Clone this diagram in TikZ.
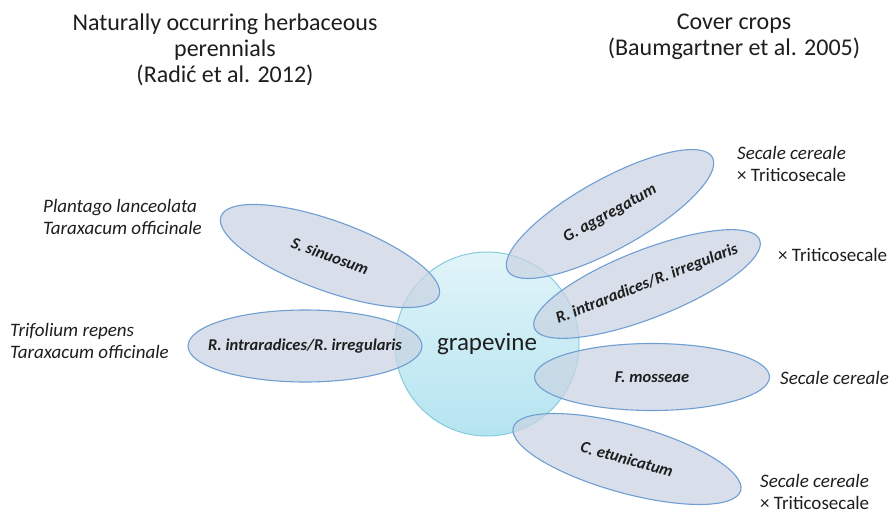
\documentclass[tikz,border=0pt]{standalone}
\usepackage{fontspec}
\setmainfont{Carlito}
\usetikzlibrary{shapes.geometric}
\definecolor{blobfill}{HTML}{C9D4E2}
\definecolor{blobline}{HTML}{6F9ED3}
\definecolor{circline}{HTML}{86CBDD}
\definecolor{circtop}{HTML}{E2F4F9}
\definecolor{circbot}{HTML}{B4E4F0}
\definecolor{txt}{HTML}{1E1E1E}
\tikzset{
  blob/.style={ellipse, draw=blobline, line width=1.1pt, fill=blobfill, fill opacity=0.72, inner sep=0pt},
  blobtext/.style={font=\fontsize{16.5}{18}\selectfont\bfseries\itshape, text=txt, inner sep=0pt},
  side/.style={font=\fontsize{19}{21.5}\selectfont, text=txt, align=left, anchor=west, inner sep=0pt},
  title/.style={font=\fontsize{24}{26}\selectfont, text=txt, align=center, inner sep=0pt},
}
\begin{document}
\begin{tikzpicture}[x=1pt,y=-1pt]
\useasboundingbox[fill=white] (0,0) rectangle (894,514);
% titles
\node[title] (t1) at (225,50) {Naturally occurring herbaceous\\perennials\\(Radić et al. 2012)};
\node[title] (t2) at (734,37) {Cover crops\\(Baumgartner et al. 2005)};
% central circle
\node[circle, draw=circline, line width=1pt, top color=circtop, bottom color=circbot, minimum size=184pt, inner sep=0pt] (g) at (487,344) {};
% ellipses
\node[blob, minimum width=232pt, minimum height=70pt, rotate=-20] (e1) at (330,256) {};
\node[blob, minimum width=234pt, minimum height=72pt] (e2) at (305,346) {};
\node[blob, minimum width=234pt, minimum height=70pt, rotate=29] (e3) at (610,214) {};
\node[blob, minimum width=242pt, minimum height=68pt, rotate=21.4] (e4) at (647,284) {};
\node[blob, minimum width=235pt, minimum height=67pt] (e5) at (652,377) {};
\node[blob, minimum width=236pt, minimum height=68pt, rotate=-15.5] (e6) at (627,459) {};
% texts
\node[font=\fontsize{25}{28}\selectfont, text=txt, inner sep=0pt] (gt) at (g) {grapevine};
\node[blobtext, rotate=-20] (l1) at (e1) {S. sinuosum};
\node[blobtext] (l2) at (e2) {R. intraradices/R. irregularis};
\node[blobtext, rotate=29] (l3) at (e3) {G. aggregatum};
\node[blobtext, rotate=21.4] (l4) at (e4) {R. intraradices/R. irregularis};
\node[blobtext] (l5) at (e5) {F. mosseae};
\node[blobtext, rotate=-15.5] (l6) at (e6) {C. etunicatum};
% side labels
\node[side] (s1) at (43,217) {\itshape Plantago lanceolata\\\itshape Taraxacum officinale};
\node[side] (s2) at (10,341) {\itshape Trifolium repens\\\itshape Taraxacum officinale};
\node[side] (s3) at (737,164) {\itshape Secale cereale\\× Triticosecale};
\node[side] (s4) at (778,255) {× Triticosecale};
\node[side] (s5) at (780,378) {\itshape Secale cereale};
\node[side] (s6) at (760,492) {\itshape Secale cereale\\× Triticosecale};
\end{tikzpicture}
\end{document}
